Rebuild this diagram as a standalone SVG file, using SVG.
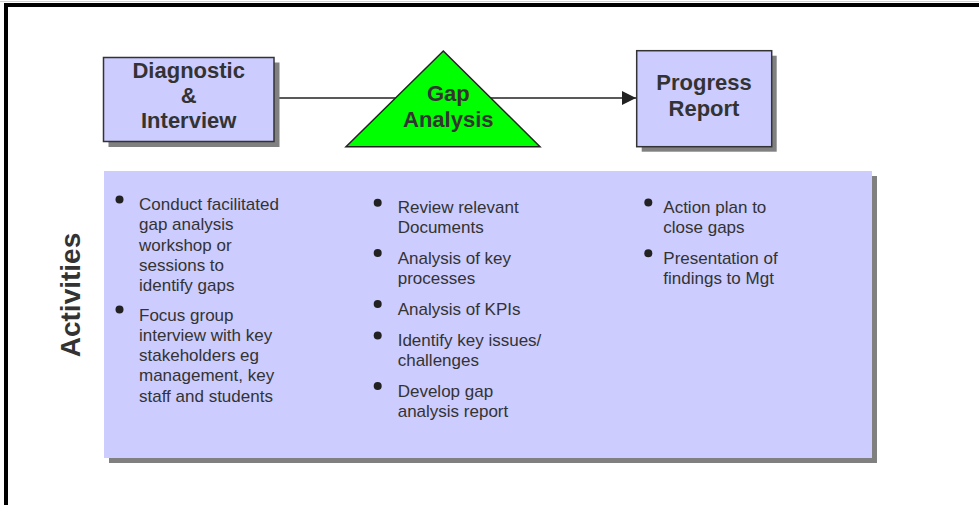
<svg xmlns="http://www.w3.org/2000/svg" width="979" height="505" viewBox="0 0 979 505">
<style>
.box{fill:#ccccff;stroke:#333;stroke-width:1.5}
.shadow{fill:#808080}
.title{font-family:"Liberation Sans",Arial,sans-serif;font-weight:bold;font-size:22px;fill:#333;text-anchor:middle}
.body{font-family:"Liberation Sans",Arial,sans-serif;font-size:17px;fill:#333}
.bullet{fill:#222}
</style>
<defs>
<marker id="arrow" markerWidth="16" markerHeight="16" refX="14" refY="7" orient="auto" markerUnits="userSpaceOnUse">
<path d="M0,0 L14,7 L0,14 Z" fill="#222"/>
</marker>
</defs>
<rect x="0" y="0" width="979" height="505" fill="#fff"/>
<line x1="0" y1="1.5" x2="979" y2="1.5" stroke="#d0d0d0" stroke-width="1"/>
<path d="M6,505 V5 H979" fill="none" stroke="#000" stroke-width="4"/>

<g id="connectors">
<line x1="274" y1="98" x2="636" y2="98" stroke="#222" stroke-width="1.5" marker-end="url(#arrow)"/>
</g>

<g id="activities-panel">
<rect class="shadow" x="109" y="176" width="768" height="287"/>
<rect x="104" y="171" width="768" height="287" fill="#ccccff"/>
<text class="title" transform="translate(79.5,295) rotate(-90)" style="font-size:28px">Activities</text>
<g id="col1">
<circle class="bullet" cx="119.5" cy="199.5" r="4"/>
<text class="body" x="139" y="210">Conduct facilitated</text>
<text class="body" x="139" y="230.3">gap analysis</text>
<text class="body" x="139" y="250.6">workshop or</text>
<text class="body" x="139" y="270.9">sessions to</text>
<text class="body" x="139" y="291.2">identify gaps</text>
<circle class="bullet" cx="119.5" cy="309.5" r="4"/>
<text class="body" x="139" y="320.5">Focus group</text>
<text class="body" x="139" y="340.8">interview with key</text>
<text class="body" x="139" y="361.1">stakeholders eg</text>
<text class="body" x="139" y="381.4">management, key</text>
<text class="body" x="139" y="401.7">staff and students</text>
</g>
<g id="col2">
<circle class="bullet" cx="377.7" cy="202.7" r="4"/>
<text class="body" x="397.7" y="213">Review relevant</text>
<text class="body" x="397.7" y="233">Documents</text>
<circle class="bullet" cx="377.7" cy="253" r="4"/>
<text class="body" x="397.7" y="264.3">Analysis of key</text>
<text class="body" x="397.7" y="284.3">processes</text>
<circle class="bullet" cx="377.7" cy="304" r="4"/>
<text class="body" x="397.7" y="315">Analysis of KPIs</text>
<circle class="bullet" cx="377.7" cy="335.5" r="4"/>
<text class="body" x="397.7" y="346">Identify key issues/</text>
<text class="body" x="397.7" y="366">challenges</text>
<circle class="bullet" cx="377.7" cy="386" r="4"/>
<text class="body" x="397.7" y="397">Develop gap</text>
<text class="body" x="397.7" y="417">analysis report</text>
</g>
<g id="col3">
<circle class="bullet" cx="648.3" cy="202.5" r="4"/>
<text class="body" x="663.3" y="213">Action plan to</text>
<text class="body" x="663.3" y="233">close gaps</text>
<circle class="bullet" cx="648.3" cy="253.3" r="4"/>
<text class="body" x="663.3" y="264">Presentation of</text>
<text class="body" x="663.3" y="284">findings to Mgt</text>
</g>
</g>

<g id="diagnostic">
<rect class="shadow" x="108.5" y="62.5" width="171" height="84.5"/>
<rect class="box" x="103.5" y="57.5" width="170.5" height="84"/>
<text class="title" x="188.7" y="77.5">Diagnostic</text>
<text class="title" x="188.7" y="102.5">&amp;</text>
<text class="title" x="188.7" y="128.3">Interview</text>
</g>

<g id="gap-analysis">
<polygon points="443.3,51 540,146.7 346,146.7" fill="#00ff00" stroke="#222" stroke-width="1.5" stroke-linejoin="miter"/>
<text class="title" x="448.3" y="101">Gap</text>
<text class="title" x="448.3" y="127.3">Analysis</text>
</g>

<g id="progress-report">
<rect class="shadow" x="641.7" y="55.7" width="135" height="96"/>
<rect class="box" x="636.7" y="50.7" width="135" height="96"/>
<text class="title" x="704" y="90">Progress</text>
<text class="title" x="704" y="116">Report</text>
</g>
</svg>
